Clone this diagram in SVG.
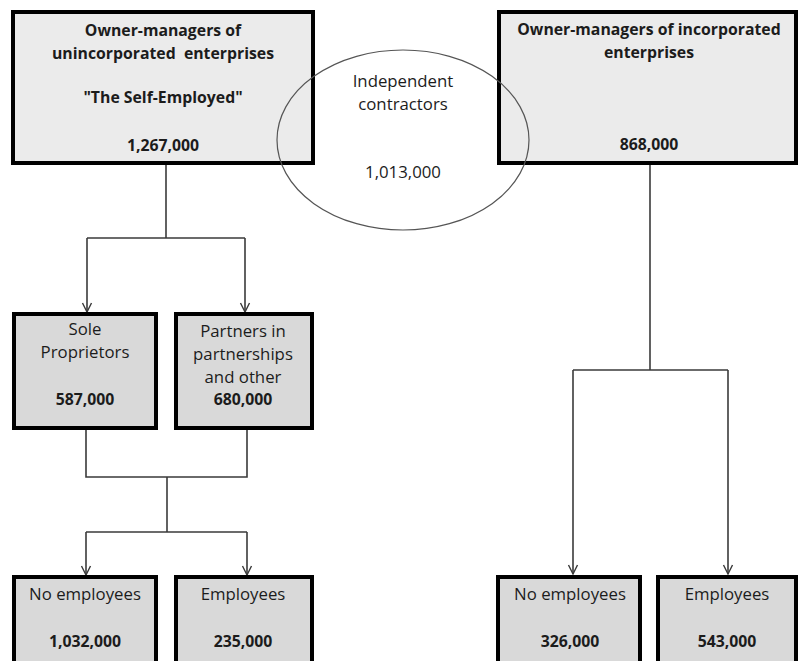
<svg xmlns="http://www.w3.org/2000/svg" width="798" height="661" viewBox="0 0 798 661">
<defs>
<style>
.top{fill:#ebebeb;stroke:#000;stroke-width:4}
.box{fill:#d9d9d9;stroke:#000;stroke-width:4}
text{font-family:"Open Sans","Liberation Sans",sans-serif;font-size:16.8px;fill:#1c1c1c;text-anchor:middle}
.b{font-weight:bold;font-size:15.8px}
.c{fill:none;stroke:#3a3a3a;stroke-width:1.6}
.ell{fill:none;stroke:#555;stroke-width:1.2}
</style>
<marker id="ar" viewBox="0 0 12 12" refX="11" refY="6" markerWidth="12" markerHeight="12" markerUnits="userSpaceOnUse" orient="auto">
<path d="M2,1.5 L11,6 L2,10.5" fill="none" stroke="#3a3a3a" stroke-width="1.4"/>
</marker>
</defs>
<rect width="798" height="661" fill="#fff"/>
<g id="connectors">
<path class="c" d="M166,164 V238"/>
<path class="c" d="M87,238 H245"/>
<path class="c" d="M87,238 V312" marker-end="url(#ar)"/>
<path class="c" d="M245,238 V312" marker-end="url(#ar)"/>
<path class="c" d="M86,429 V477 H247 V429"/>
<path class="c" d="M167,477 V532"/>
<path class="c" d="M86,532 H247"/>
<path class="c" d="M86,532 V575" marker-end="url(#ar)"/>
<path class="c" d="M247,532 V575" marker-end="url(#ar)"/>
<path class="c" d="M650,164 V370"/>
<path class="c" d="M573,370 H728"/>
<path class="c" d="M573,370 V574" marker-end="url(#ar)"/>
<path class="c" d="M728,370 V574" marker-end="url(#ar)"/>
</g>
<g id="unincorporated">
<rect class="top" x="13" y="12" width="300" height="151"/>
<text class="b" x="163" y="36">Owner-managers of</text>
<text class="b" x="163" y="59" xml:space="preserve">unincorporated  enterprises</text>
<text class="b" x="163" y="103">"The Self-Employed"</text>
<text class="b" x="163" y="151">1,267,000</text>
</g>
<g id="incorporated">
<rect class="top" x="499" y="12" width="297" height="151"/>
<text class="b" x="649" y="35">Owner-managers of incorporated</text>
<text class="b" x="649" y="58">enterprises</text>
<text class="b" x="649" y="150">868,000</text>
</g>
<g id="contractors">
<ellipse class="ell" cx="403" cy="140" rx="126" ry="90"/>
<text x="403" y="87">Independent</text>
<text x="403" y="110">contractors</text>
<text x="403" y="178">1,013,000</text>
</g>
<g id="sole">
<rect class="box" x="14" y="314" width="142" height="114"/>
<text x="85" y="335">Sole</text>
<text x="85" y="358">Proprietors</text>
<text class="b" x="85" y="405">587,000</text>
</g>
<g id="partners">
<rect class="box" x="176" y="314" width="136" height="114"/>
<text x="243" y="337">Partners in</text>
<text x="243" y="360">partnerships</text>
<text x="243" y="383">and other</text>
<text class="b" x="243" y="405">680,000</text>
</g>
<g id="u-noemp">
<rect class="box" x="14" y="577" width="142" height="90"/>
<text x="85" y="600">No employees</text>
<text class="b" x="85" y="647">1,032,000</text>
</g>
<g id="u-emp">
<rect class="box" x="176" y="577" width="136" height="90"/>
<text x="243" y="600">Employees</text>
<text class="b" x="243" y="647">235,000</text>
</g>
<g id="i-noemp">
<rect class="box" x="498" y="577" width="142" height="90"/>
<text x="570" y="600">No employees</text>
<text class="b" x="570" y="647">326,000</text>
</g>
<g id="i-emp">
<rect class="box" x="658" y="577" width="138" height="90"/>
<text x="727" y="600">Employees</text>
<text class="b" x="727" y="647">543,000</text>
</g>
</svg>
